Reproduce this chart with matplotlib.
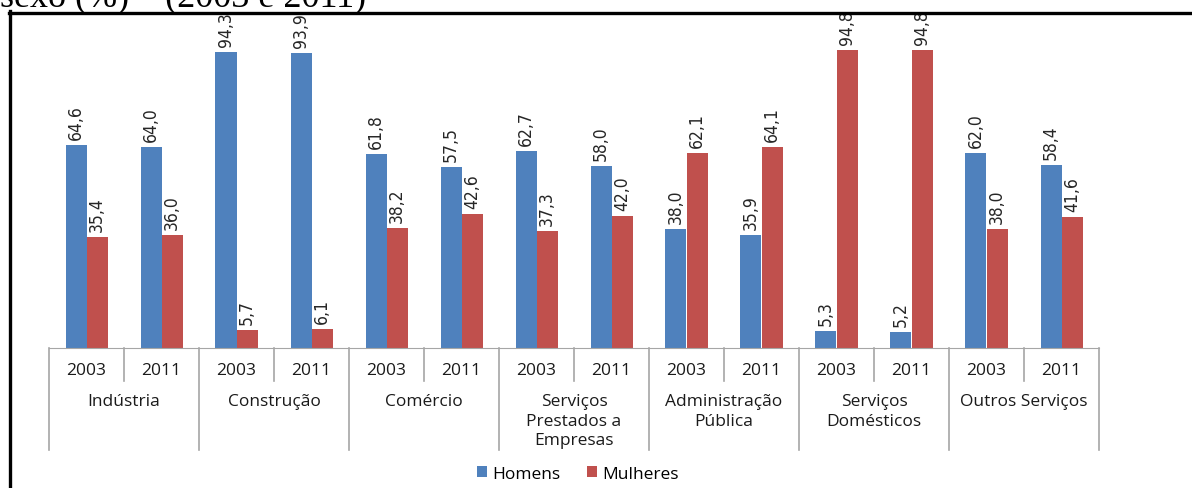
import matplotlib
matplotlib.use("Agg")
import matplotlib.pyplot as plt
from matplotlib.lines import Line2D
from matplotlib.patches import Patch
from matplotlib.transforms import offset_copy
import numpy as np

sectors = ["Indústria", "Construção", "Comércio", "Serviços\nPrestados a\nEmpresas",
           "Administração\nPública", "Serviços\nDomésticos", "Outros Serviços"]
years = ["2003", "2011"]
homens = [64.6, 64.0, 94.3, 93.9, 61.8, 57.5, 62.7, 58.0, 38.0, 35.9, 5.3, 5.2, 62.0, 58.4]
mulheres = [35.4, 36.0, 5.7, 6.1, 38.2, 42.6, 37.3, 42.0, 62.1, 64.1, 94.8, 94.8, 38.0, 41.6]
series_names = ["Homens", "Mulheres"]
title_text = "sexo (%) \u2013 (2003 e 2011)"

BLUE = "#4F81BD"
RED = "#C0504D"
GRID = "#A6A6A6"

W, H = 1192, 489
fig = plt.figure(figsize=(W / 100, H / 100), dpi=100)

ax_l, ax_r, ax_top, ax_bot = 49, 1099, 14, 349
ax = fig.add_axes([ax_l / W, 1 - ax_bot / H, (ax_r - ax_l) / W, (ax_bot - ax_top) / H])
ax_h = ax_bot - ax_top

n = len(homens)
x = np.arange(n) + 0.5
bw = 0.28
ax.bar(x - bw / 2, homens, width=bw, color=BLUE, zorder=2)
ax.bar(x + bw / 2, mulheres, width=bw, color=RED, zorder=2)
ax.set_xlim(0, n)
ax.set_ylim(0, ax_h / 3.142)

for s in ["top", "right", "left"]:
    ax.spines[s].set_visible(False)
ax.spines["bottom"].set_color(GRID)
ax.set_xticks([])
ax.set_yticks([])

lab_font = dict(family="DejaVu Sans", fontstretch="condensed", fontsize=12.5, color="#262626")
for xs, vals in ((x - bw / 2, homens), (x + bw / 2, mulheres)):
    for xi, v in zip(xs, vals):
        t = offset_copy(ax.transData, fig=fig, x=0, y=6, units="dots")
        ax.text(xi, v, f"{v:.1f}".replace(".", ","), rotation=90, ha="center", va="bottom",
                transform=t, **lab_font)

trans = ax.get_xaxis_transform()
def yf(px):
    return (ax_bot - px) / ax_h

for i in range(n + 1):
    y_end = 451 if i % 2 == 0 else 382
    ax.add_line(Line2D([i, i], [0, yf(y_end)], transform=trans, color=GRID, lw=1.2, clip_on=False))

txt_font = dict(family=["Open Sans", "DejaVu Sans"], fontsize=12.5, color="#1a1a1a")
for i in range(n):
    ax.text(i + 0.5, yf(371), years[i % 2], ha="center", va="center", transform=trans, **txt_font)
for g, name in enumerate(sectors):
    ax.text(2 * g + 1, yf(394), name, ha="center", va="top", transform=trans,
            linespacing=1.3, **txt_font)

handles = [Patch(facecolor=BLUE, edgecolor="none"), Patch(facecolor=RED, edgecolor="none")]
fig.legend(handles, series_names, loc="center", bbox_to_anchor=(578 / W, 1 - 475 / H), ncol=2,
           frameon=False, handlelength=0.6, handleheight=0.6, handletextpad=0.3,
           columnspacing=1.5, prop=dict(family="Open Sans", size=12.5))

fig.add_artist(Line2D([9.5 / W, 9.5 / W], [0, 1 - 12 / H], color="black", lw=2.4))
fig.add_artist(Line2D([8.5 / W, 1.0], [1 - 13.5 / H, 1 - 13.5 / H], color="black", lw=2.4))

fig.text(0.0, 1 - 6 / H, title_text, ha="left", va="baseline",
         family=["Liberation Serif", "DejaVu Serif"], fontsize=26, color="black")

fig.savefig("out.png", dpi=100)
